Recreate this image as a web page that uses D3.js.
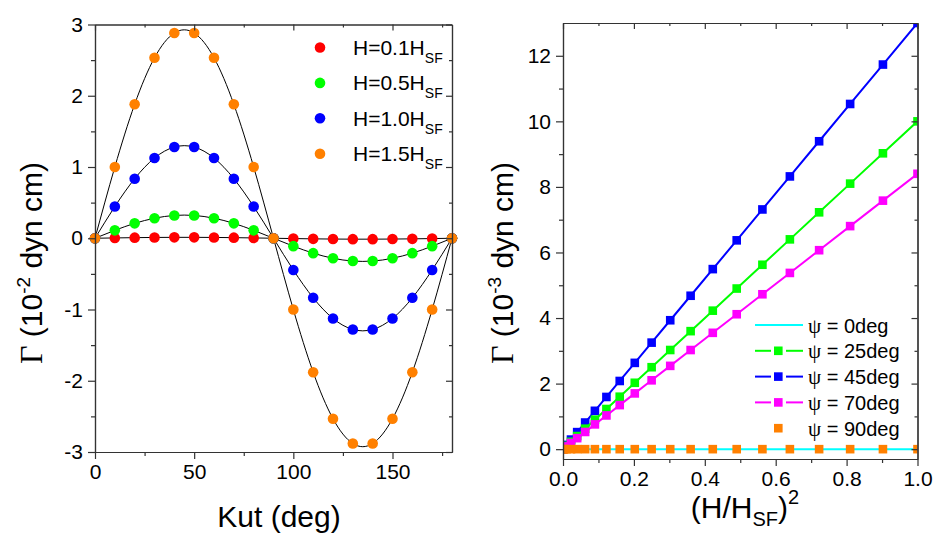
<!DOCTYPE html>
<html><head><meta charset="utf-8">
<script src="https://cdn.jsdelivr.net/npm/d3@7"></script>
<style>
html,body{margin:0;padding:0;background:#fff;}
svg text{font-family:Arial,"Liberation Sans",sans-serif;fill:#000;}
</style></head>
<body><svg id="c" width="936" height="533"></svg>
<script>
// ---------- Left panel data ----------
const kutAngles = [0,10,20,30,40,50,60,70,80,90,100,110,120,130,140,150,160,170,180];
const gammaH01 = [0,0.0044,0.0084,0.0113,0.0128,0.0128,0.0113,0.0084,0.0044,0,-0.0044,-0.0084,-0.0113,-0.0128,-0.0128,-0.0113,-0.0084,-0.0044,0];
const gammaH05 = [0,0.111,0.209,0.281,0.320,0.320,0.281,0.209,0.111,0,-0.111,-0.209,-0.281,-0.320,-0.320,-0.281,-0.209,-0.111,0];
const gammaH10 = [0,0.445,0.836,1.126,1.280,1.280,1.126,0.836,0.445,0,-0.445,-0.836,-1.126,-1.280,-1.280,-1.126,-0.836,-0.445,0];
const gammaH15 = [0,1.000,1.880,2.533,2.881,2.881,2.533,1.880,1.000,0,-1.000,-1.880,-2.533,-2.881,-2.881,-2.533,-1.880,-1.000,0];
const leftLabels = ["H=0.1H","H=0.5H","H=1.0H","H=1.5H"];
const leftColors = ["#ff0000","#00ff00","#0000ff","#ff8000"];
const leftXTicks = [0,50,100,150];
const leftYTicks = [-3,-2,-1,0,1,2,3];

// ---------- Right panel data ----------
const hRatioSq = [0,0.0025,0.01,0.0225,0.04,0.0625,0.09,0.1225,0.16,0.2025,0.25,0.3025,0.36,0.4225,0.49,0.5625,0.64,0.7225,0.81,0.9025,1.0];
const psi0  = [0,0,0,0,0,0,0,0,0,0,0,0,0,0,0,0,0,0,0,0,0];
const psi25 = [0,0.025,0.1,0.225,0.4,0.625,0.9,1.225,1.6,2.025,2.5,3.025,3.6,4.225,4.9,5.625,6.4,7.225,8.1,9.025,10.0];
const psi45 = [0,0.0325,0.13,0.2925,0.52,0.8125,1.17,1.5925,2.08,2.6325,3.25,3.9325,4.68,5.4925,6.37,7.3125,8.32,9.3925,10.53,11.7325,13.0];
const psi70 = [0,0.021,0.084,0.189,0.336,0.525,0.756,1.029,1.344,1.701,2.1,2.541,3.024,3.549,4.116,4.725,5.376,6.069,6.804,7.581,8.4];
const psi90 = [0,0,0,0,0,0,0,0,0,0,0,0,0,0,0,0,0,0,0,0,0];
const rightLabels = [" = 0deg"," = 25deg"," = 45deg"," = 70deg"," = 90deg"];
const rightColors = ["#00ffff","#00ff00","#0000ff","#ff00ff","#ff8000"];
const rightXTicks = [0,0.2,0.4,0.6,0.8,1.0];
const rightYTicks = [0,2,4,6,8,10,12];

const svg = d3.select("#c");
const AX = "#333";
const SERIF = "'Liberation Serif','DejaVu Serif',serif";

function frame(x, y, xMaj, xMin, yMaj, yMin, xFmt, yFmt){
  const [x0,x1] = x.range(), [y0,y1] = y.range();
  const g = svg.append("g");
  g.append("g").attr("transform",`translate(0,${y0})`)
    .call(d3.axisBottom(x).tickValues(xMaj).tickSize(7).tickSizeOuter(0).tickPadding(5).tickFormat(xFmt));
  g.append("g").attr("transform",`translate(0,${y0})`)
    .call(d3.axisBottom(x).tickValues(xMin).tickSize(4).tickSizeOuter(0).tickFormat(""));
  g.append("g").attr("transform",`translate(${x0},0)`)
    .call(d3.axisLeft(y).tickValues(yMaj).tickSize(7).tickSizeOuter(0).tickPadding(5).tickFormat(yFmt));
  g.append("g").attr("transform",`translate(${x0},0)`)
    .call(d3.axisLeft(y).tickValues(yMin).tickSize(4).tickSizeOuter(0).tickFormat(""));
  g.append("g").attr("transform",`translate(0,${y1})`)
    .call(d3.axisTop(x).tickValues(xMaj).tickSize(-6).tickSizeOuter(0).tickFormat(""));
  g.append("g").attr("transform",`translate(0,${y1})`)
    .call(d3.axisTop(x).tickValues(xMin).tickSize(-3).tickSizeOuter(0).tickFormat(""));
  g.append("g").attr("transform",`translate(${x1},0)`)
    .call(d3.axisRight(y).tickValues(yMaj).tickSize(-6).tickSizeOuter(0).tickFormat(""));
  g.append("g").attr("transform",`translate(${x1},0)`)
    .call(d3.axisRight(y).tickValues(yMin).tickSize(-3).tickSizeOuter(0).tickFormat(""));
  g.selectAll(".domain").attr("stroke",AX).attr("stroke-width",1.2);
  g.selectAll(".tick line").attr("stroke",AX).attr("stroke-width",1.2);
  g.selectAll(".tick text").attr("font-size",21).attr("font-family","Arial, 'Liberation Sans', sans-serif").attr("fill","#000");
  return g;
}
const intFmt = d => String(d);
const oneDec = d => d.toFixed(1);

// ================= LEFT PANEL =================
const xL = d3.scaleLinear().domain([0,180]).range([95,452]);
const yL = d3.scaleLinear().domain([-3,3]).range([452,24.5]);
const leftSeries = [gammaH01,gammaH05,gammaH10,gammaH15];

const lineL = d3.line().x((d,i)=>xL(kutAngles[i])).y(d=>yL(d)).curve(d3.curveNatural);
leftSeries.forEach(s=>{
  svg.append("path").attr("d",lineL(s)).attr("fill","none").attr("stroke","#000").attr("stroke-width",1);
});
leftSeries.forEach((s,k)=>{
  svg.append("g").selectAll("circle").data(s).join("circle")
    .attr("cx",(d,i)=>xL(kutAngles[i])).attr("cy",d=>yL(d)).attr("r",5.3)
    .attr("fill",leftColors[k]);
});
frame(xL,yL,leftXTicks,[25,75,125,175],leftYTicks,[-2.5,-1.5,-0.5,0.5,1.5,2.5],intFmt,intFmt);

leftLabels.forEach((lab,k)=>{
  const yy = 47.5 + k*35.4;
  svg.append("circle").attr("cx",320).attr("cy",yy).attr("r",5.3).attr("fill",leftColors[k]);
  const t = svg.append("text").attr("x",353).attr("y",yy+7.5).attr("font-size",21);
  t.append("tspan").text(lab);
  t.append("tspan").attr("font-size",14).attr("dy",8).text("SF");
});

svg.append("text").attr("x",279).attr("y",527).attr("text-anchor","middle").attr("font-size",30).text("Kut (deg)");
function yTitle(x, exp){
  const t = svg.append("text").attr("transform",`translate(${x},263) rotate(-90)`).attr("text-anchor","middle").attr("font-size",30);
  t.append("tspan").attr("font-family",SERIF).attr("font-size",32).text("Γ");
  t.append("tspan").text(" (10");
  t.append("tspan").attr("font-size",19).attr("dy",-12).text(exp);
  t.append("tspan").attr("dy",12).text(" dyn cm)");
}
yTitle(42,"-2");

// ================= RIGHT PANEL =================
const xR = d3.scaleLinear().domain([0,1]).range([563,917.5]);
const yR = d3.scaleLinear().domain([-0.3,13]).range([459,23]);
svg.append("defs").append("clipPath").attr("id","clipR").append("rect")
  .attr("x",563).attr("y",23).attr("width",917.5-563).attr("height",459-23);

const plotR = svg.append("g").attr("clip-path","url(#clipR)");
const lineR = d3.line().x((d,i)=>xR(hRatioSq[i])).y(d=>yR(d));
const drawOrder = [2,1,3,0,4];
const rightSeries = [psi0,psi25,psi45,psi70,psi90];
drawOrder.forEach(k=>{
  const s = rightSeries[k];
  if(k!==4){
    plotR.append("path").attr("d",lineR(s)).attr("fill","none").attr("stroke",rightColors[k]).attr("stroke-width",2);
  }
  if(k!==0){
    plotR.append("g").selectAll("rect").data(s).join("rect")
      .attr("x",(d,i)=>xR(hRatioSq[i])-4.3).attr("y",d=>yR(d)-4.3)
      .attr("width",8.6).attr("height",8.6).attr("fill",rightColors[k]);
  }
});
frame(xR,yR,rightXTicks,[0.1,0.3,0.5,0.7,0.9],rightYTicks,[1,3,5,7,9,11],oneDec,intFmt);

rightLabels.forEach((lab,k)=>{
  const yy = 325 + k*25.8;
  const c = rightColors[k];
  if(k===0){
    svg.append("line").attr("x1",755).attr("x2",803).attr("y1",yy).attr("y2",yy).attr("stroke",c).attr("stroke-width",2);
  } else if(k<4){
    svg.append("line").attr("x1",755).attr("x2",771).attr("y1",yy).attr("y2",yy).attr("stroke",c).attr("stroke-width",2);
    svg.append("line").attr("x1",786).attr("x2",803).attr("y1",yy).attr("y2",yy).attr("stroke",c).attr("stroke-width",2);
  }
  if(k>0){
    svg.append("rect").attr("x",778.3-4.3).attr("y",yy-4.3).attr("width",8.6).attr("height",8.6).attr("fill",c);
  }
  const t = svg.append("text").attr("x",808).attr("y",yy+7.5).attr("font-size",20);
  t.append("tspan").attr("font-family",SERIF).attr("font-size",21).text("ψ");
  t.append("tspan").text(lab);
});

{
  const t = svg.append("text").attr("x",745).attr("y",518).attr("text-anchor","middle").attr("font-size",30);
  t.append("tspan").text("(H/H");
  t.append("tspan").attr("font-size",20).attr("dy",8).text("SF");
  t.append("tspan").attr("dy",-8).text(")");
  t.append("tspan").attr("font-size",20).attr("dy",-14).text("2");
}
yTitle(513,"-3");
</script></body></html>
